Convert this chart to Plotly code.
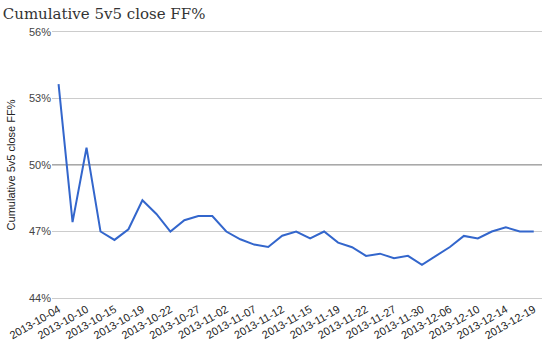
import plotly.graph_objects as go

dates = ["2013-10-04", "2013-10-06", "2013-10-10", "2013-10-12", "2013-10-15", "2013-10-17",
         "2013-10-19", "2013-10-20", "2013-10-22", "2013-10-24", "2013-10-27", "2013-10-30",
         "2013-11-02", "2013-11-05", "2013-11-07", "2013-11-09", "2013-11-12", "2013-11-14",
         "2013-11-15", "2013-11-16", "2013-11-19", "2013-11-21", "2013-11-22", "2013-11-25",
         "2013-11-27", "2013-11-29", "2013-11-30", "2013-12-03", "2013-12-06", "2013-12-08",
         "2013-12-10", "2013-12-12", "2013-12-14", "2013-12-17", "2013-12-19"]
ff_pct = [53.65, 47.42, 50.78, 47.0, 46.62, 47.1, 48.41, 47.79, 47.0, 47.51, 47.7, 47.7,
          47.0, 46.65, 46.41, 46.3, 46.81, 47.0, 46.69, 47.0, 46.5, 46.29, 45.9, 46.0,
          45.79, 45.9, 45.5, 45.9, 46.3, 46.8, 46.69, 47.0, 47.19, 47.0, 47.0]
tick_labels = dates[::2]
y_ticks = [44, 47, 50, 53, 56]

fig = go.Figure()
fig.add_trace(go.Scatter(x=dates, y=ff_pct, mode="lines",
                         line=dict(color="#3366cc", width=2), hoverinfo="skip"))
fig.add_shape(type="line", xref="paper", x0=0, x1=1, yref="y", y0=50, y1=50,
              line=dict(color="#555555", width=1.2), layer="below")

fig.update_layout(
    width=550, height=350,
    margin=dict(l=47, r=8, t=32, b=52),
    paper_bgcolor="white", plot_bgcolor="white",
    showlegend=False,
    title=dict(text="Cumulative 5v5 close FF%", x=0.005, xanchor="left", y=0.975, yanchor="top",
               font=dict(family="DejaVu Serif", size=15, color="#333333")),
    font=dict(family="Liberation Sans, Arial", size=11, color="#444444"),
)
fig.update_xaxes(type="category", range=[-0.47, 34.59], tickmode="array",
                 tickvals=tick_labels, ticktext=tick_labels, tickangle=-30,
                 showgrid=False, zeroline=False, showline=True, mirror=True,
                 linecolor="#cccccc", linewidth=1, ticks="",
                 tickfont=dict(size=11, color="#222222"))
fig.update_yaxes(range=[44, 56], tickmode="array", tickvals=y_ticks,
                 ticktext=[f"{v}%" for v in y_ticks],
                 showgrid=True, gridcolor="#cccccc", gridwidth=1, zeroline=False,
                 showline=False, ticks="", tickfont=dict(size=11, color="#444444"),
                 title=dict(text="Cumulative 5v5 close FF%", standoff=11,
                            font=dict(size=11, color="#222222")))

fig.write_html("out.html")
